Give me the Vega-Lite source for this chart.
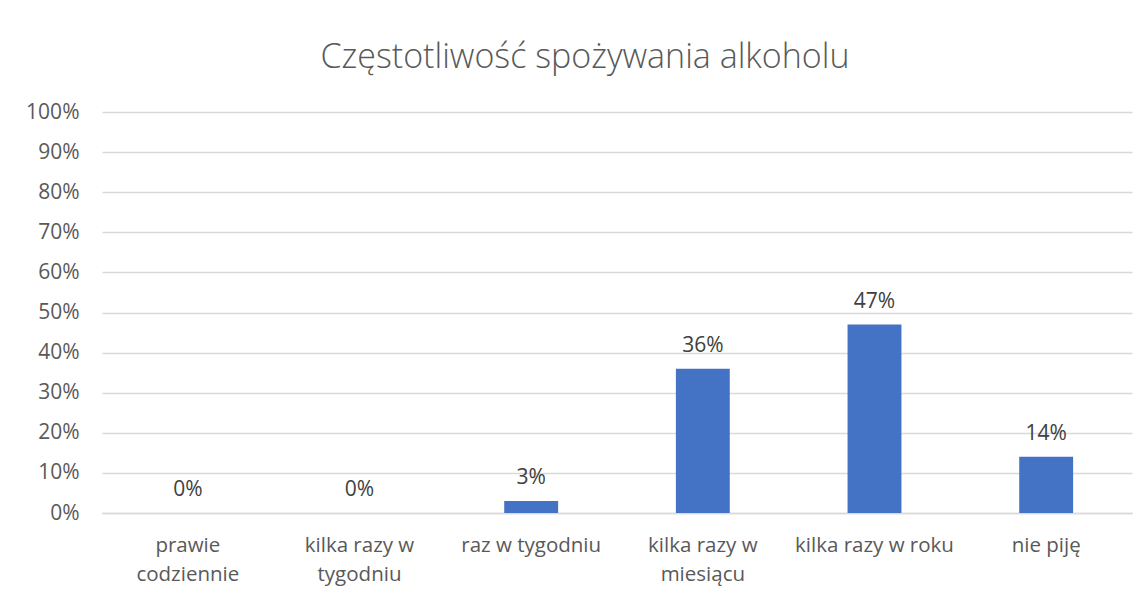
{
  "$schema": "https://vega.github.io/schema/vega-lite/v6.json",
  "width": 1030,
  "height": 401,
  "autosize": {"type": "none"},
  "padding": {"left": 102, "top": 112, "right": 15, "bottom": 84},
  "background": "#ffffff",
  "config": {
    "font": "Open Sans",
    "view": {"stroke": null}
  },
  "title": {
    "text": "Częstotliwość spożywania alkoholu",
    "font": "Open Sans",
    "fontWeight": 300,
    "fontSize": 34,
    "color": "#595959",
    "anchor": "middle",
    "baseline": "alphabetic",
    "dx": -32,
    "offset": -1
  },
  "data": {
    "values": [
      {"kategoria": "prawie codziennie", "udzial": 0.0},
      {"kategoria": "kilka razy w tygodniu", "udzial": 0.0},
      {"kategoria": "raz w tygodniu", "udzial": 0.03},
      {"kategoria": "kilka razy w miesiącu", "udzial": 0.36},
      {"kategoria": "kilka razy w roku", "udzial": 0.47},
      {"kategoria": "nie piję", "udzial": 0.14}
    ]
  },
  "encoding": {
    "x": {
      "field": "kategoria",
      "type": "nominal",
      "sort": null,
      "title": null,
      "scale": {"paddingInner": 0.686, "paddingOuter": 0.343},
      "axis": {
        "labelAngle": 0,
        "labelFont": "Open Sans",
        "labelFontSize": 20.5,
        "labelColor": "#595959",
        "labelPadding": 22,
        "labelLineHeight": 29,
        "labelExpr": "datum.value == 'prawie codziennie' ? ['prawie', 'codziennie'] : datum.value == 'kilka razy w tygodniu' ? ['kilka razy w', 'tygodniu'] : datum.value == 'kilka razy w miesiącu' ? ['kilka razy w', 'miesiącu'] : datum.value",
        "ticks": false,
        "domain": true,
        "domainColor": "#D9D9D9",
        "domainWidth": 1.5,
        "grid": false
      }
    },
    "y": {
      "field": "udzial",
      "type": "quantitative",
      "title": null,
      "scale": {"domain": [0, 1], "nice": false},
      "axis": {
        "format": ".0%",
        "values": [0, 0.1, 0.2, 0.3, 0.4, 0.5, 0.6, 0.7, 0.8, 0.9, 1],
        "labelFont": "Open Sans",
        "labelFontSize": 21,
        "labelColor": "#595959",
        "labelPadding": 23,
        "ticks": false,
        "domain": false,
        "grid": true,
        "gridColor": "#D9D9D9",
        "gridWidth": 1.5
      }
    }
  },
  "layer": [
    {"mark": {"type": "bar", "color": "#4472C4"}},
    {
      "mark": {"type": "text", "baseline": "alphabetic", "dy": -17, "fontSize": 21, "color": "#404040", "font": "Open Sans"},
      "encoding": {"text": {"field": "udzial", "type": "quantitative", "format": ".0%"}}
    }
  ]
}
